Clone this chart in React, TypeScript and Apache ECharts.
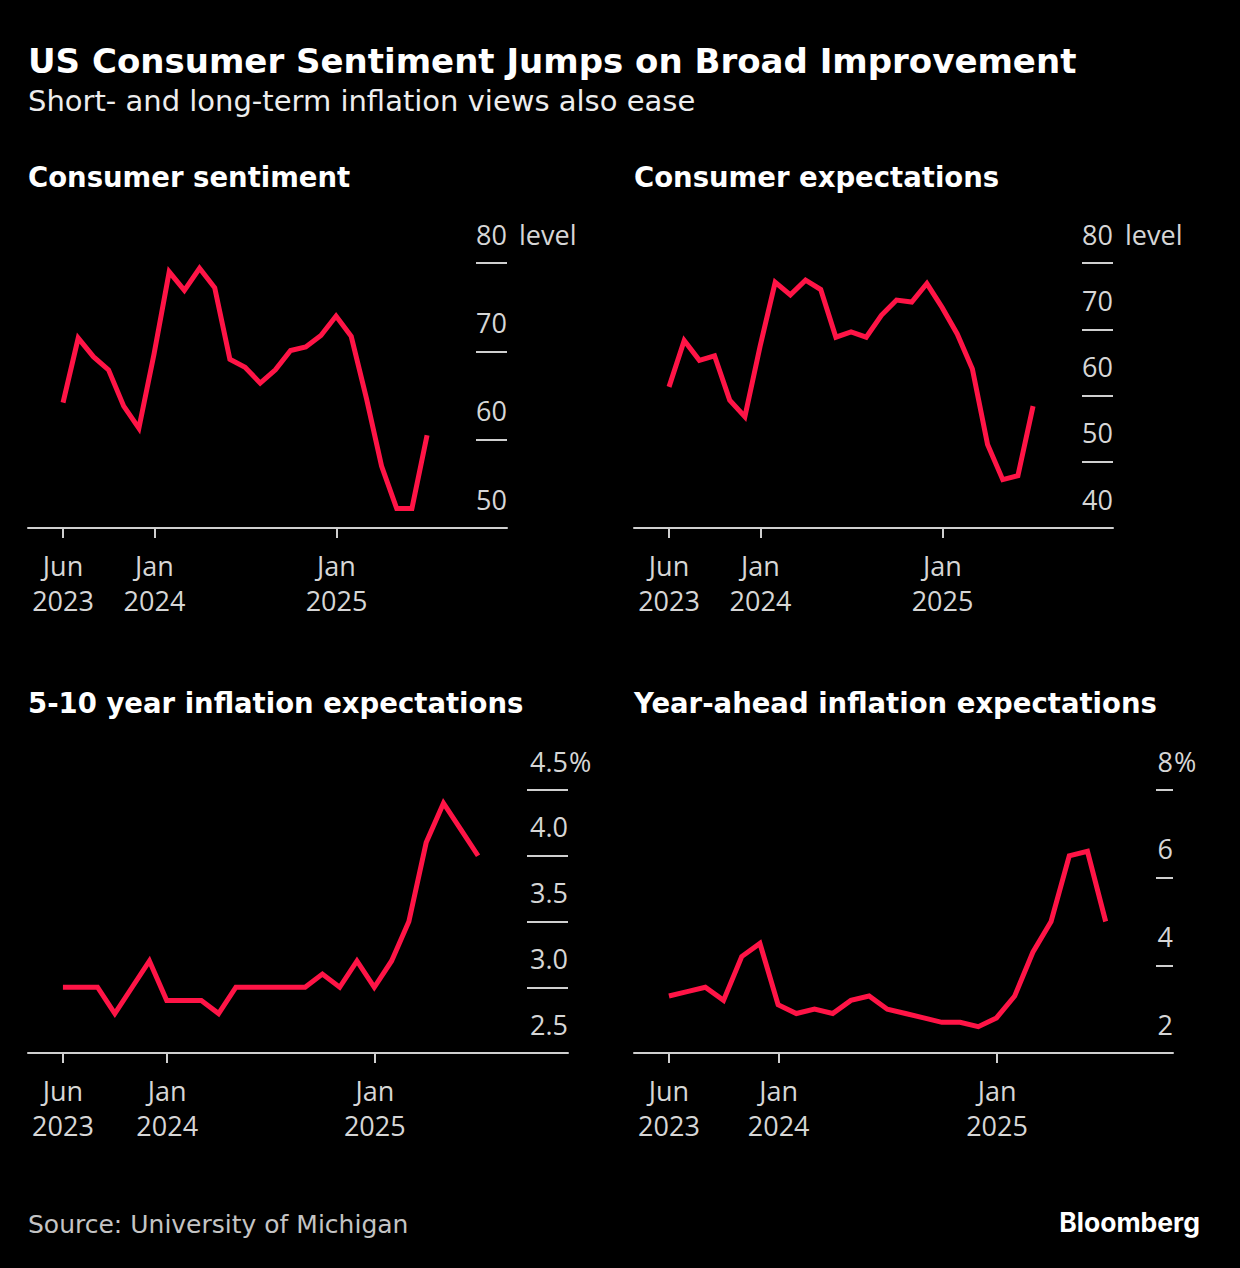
import React, { useEffect, useRef } from "react";
import * as echarts from "echarts";

// Monthly observations, Jun 2023 – Jun 2025
const months = [
  "2023-06", "2023-07", "2023-08", "2023-09", "2023-10", "2023-11", "2023-12",
  "2024-01", "2024-02", "2024-03", "2024-04", "2024-05", "2024-06", "2024-07",
  "2024-08", "2024-09", "2024-10", "2024-11", "2024-12",
  "2025-01", "2025-02", "2025-03", "2025-04", "2025-05", "2025-06",
];

const sentiment = [
  64.2, 71.5, 69.4, 67.9, 63.8, 61.3, 69.7, 79.0, 76.9, 79.4, 77.2, 69.1, 68.2,
  66.4, 67.9, 70.1, 70.5, 71.8, 74.0, 71.7, 64.7, 57.0, 52.2, 52.2, 60.5,
];

const expectations = [
  61.3, 68.3, 65.3, 66.0, 59.3, 56.8, 67.4, 77.1, 75.2, 77.4, 76.0, 68.8, 69.6,
  68.8, 72.1, 74.4, 74.1, 76.9, 73.3, 69.3, 64.0, 52.6, 47.3, 47.9, 58.4,
];

const longRunInflation = [
  3.0, 3.0, 3.0, 2.8, 3.0, 3.2, 2.9, 2.9, 2.9, 2.8, 3.0, 3.0, 3.0,
  3.0, 3.0, 3.1, 3.0, 3.2, 3.0, 3.2, 3.5, 4.1, 4.4, 4.2, 4.0,
];

const yearAheadInflation = [
  3.3, 3.4, 3.5, 3.2, 4.2, 4.5, 3.1, 2.9, 3.0, 2.9, 3.2, 3.3, 3.0,
  2.9, 2.8, 2.7, 2.7, 2.6, 2.8, 3.3, 4.3, 5.0, 6.5, 6.6, 5.0,
];

const xTickMonths = ["2023-06", "2024-01", "2025-01"];
const xTickLabels = ["Jun\n2023", "Jan\n2024", "Jan\n2025"];

const panelTitles = [
  "Consumer sentiment",
  "Consumer expectations",
  "5-10 year inflation expectations",
  "Year-ahead inflation expectations",
];
const unitLabels = ["level", "level", "%", "%"];

const RED = "#ff1446";
const AXIS = "#cfcfcf";
const LABEL = "#d6d6d6";
const FONT = "'Open Sans', 'Noto Sans', sans-serif";
const HEAD = "'DejaVu Sans', 'Open Sans', sans-serif";

// tick position on the month-index scale (month-end data points, month-start ticks)
const tickPos = (m: string) => {
  const i = months.indexOf(m);
  return i === 0 ? 0 : i - 0.97;
};
const xTickValues = xTickMonths.map(tickPos);

type Panel = {
  left: number; right: number; top: number; bottom: number;
  xMin: number; xMax: number;
  yMin: number; yMax: number; interval: number;
  tickLen: number; decimals: number; unitMargin: number;
  data: number[];
};

const panels: Panel[] = [
  { left: 28, right: 733, top: 263, bottom: 740, xMin: -2.31, xMax: 29.27, yMin: 50, yMax: 80, interval: 10, tickLen: 31, decimals: 0, unitMargin: 12, data: sentiment },
  { left: 634, right: 127, top: 263, bottom: 740, xMin: -2.31, xMax: 29.27, yMin: 40, yMax: 80, interval: 10, tickLen: 31, decimals: 0, unitMargin: 12, data: expectations },
  { left: 28, right: 672, top: 790, bottom: 215, xMin: -2.02, xMax: 29.2, yMin: 2.5, yMax: 4.5, interval: 0.5, tickLen: 41, decimals: 1, unitMargin: 1, data: longRunInflation },
  { left: 634, right: 67, top: 790, bottom: 215, xMin: -1.92, xMax: 27.7, yMin: 2, yMax: 8, interval: 2, tickLen: 17, decimals: 0, unitMargin: 1, data: yearAheadInflation },
];

function buildOption() {
  const grid: any[] = [];
  const xAxis: any[] = [];
  const yAxis: any[] = [];
  const series: any[] = [];

  panels.forEach((p, k) => {
    grid.push({ left: p.left, right: p.right, top: p.top, bottom: p.bottom, containLabel: false });
    xAxis.push({
      type: "value",
      gridIndex: k,
      position: "bottom",
      min: p.xMin,
      max: p.xMax,
      splitLine: { show: false },
      axisLine: { show: true, onZero: false, lineStyle: { color: AXIS, width: 2 } },
      axisTick: { show: true, customValues: xTickValues, length: 10, lineStyle: { color: AXIS, width: 2 } },
      axisLabel: {
        show: true,
        customValues: xTickValues,
        formatter: (v: number) => {
          const idx = xTickValues.findIndex((t) => Math.abs(t - v) < 1e-6);
          return idx >= 0 ? xTickLabels[idx] : "";
        },
        color: LABEL,
        fontSize: 27,
        lineHeight: 35,
        fontFamily: FONT,
        margin: 20,
      },
    });
    yAxis.push({
      type: "value",
      gridIndex: k,
      position: "right",
      min: p.yMin,
      max: p.yMax,
      interval: p.interval,
      splitLine: { show: false },
      axisLine: { show: false, onZero: false },
      axisTick: { show: true, inside: true, length: p.tickLen, lineStyle: { color: AXIS, width: 2 } },
      axisLabel: {
        color: LABEL,
        fontSize: 27,
        fontFamily: FONT,
        verticalAlign: "bottom",
        lineHeight: 30,
        padding: [0, 0, 14, 0],
        showMinLabel: true,
        showMaxLabel: true,
        inside: true,
        margin: 0,
        formatter: (v: number) => v.toFixed(p.decimals),
      },
      name: unitLabels[k],
      nameLocation: "end",
      nameGap: 29,
      nameMoveOverlap: false,
      nameTextStyle: {
        color: LABEL,
        fontSize: 27,
        fontFamily: FONT,
        align: "left",
        verticalAlign: "middle",
        padding: [0, 0, 0, p.unitMargin],
      },
    });
    series.push({
      type: "line",
      xAxisIndex: k,
      yAxisIndex: k,
      data: p.data.map((v, i) => [i, v]),
      showSymbol: false,
      symbol: "none",
      lineStyle: { color: RED, width: 5, join: "miter" },
      z: 5,
    });
  });

  const panelTitleStyle = { color: "#fff", fontSize: 27.5, fontWeight: "bold", fontFamily: HEAD };
  const titles: any[] = [
    { text: "US Consumer Sentiment Jumps on Broad Improvement", left: 28, top: 44, padding: 0,
      textStyle: { color: "#ffffff", fontSize: 34, fontWeight: "bold", fontFamily: HEAD } },
    { text: "Short- and long-term inflation views also ease", left: 28, top: 86, padding: 0,
      textStyle: { color: "#ededed", fontSize: 29, fontWeight: "normal", fontFamily: HEAD } },
    { text: panelTitles[0], left: 28, top: 163, padding: 0, textStyle: panelTitleStyle },
    { text: panelTitles[1], left: 634, top: 163, padding: 0, textStyle: panelTitleStyle },
    { text: panelTitles[2], left: 28, top: 689, padding: 0, textStyle: panelTitleStyle },
    { text: panelTitles[3], left: 634, top: 689, padding: 0, textStyle: panelTitleStyle },
    { text: "Source: University of Michigan", left: 28, top: 1212, padding: 0,
      textStyle: { color: "#c4c4c4", fontSize: 25, fontWeight: "normal", fontFamily: HEAD } },
    { text: "Bloomberg", right: 40, top: 1208, padding: 0,
      textStyle: { color: "#ffffff", fontSize: 26.5, fontWeight: "bold", fontFamily: "Inter, 'Open Sans', sans-serif" } },
  ];

  return {
    animation: false,
    backgroundColor: "#000000",
    title: titles,
    grid,
    xAxis,
    yAxis,
    series,
  };
}

export default function App() {
  const ref = useRef<HTMLDivElement>(null);
  useEffect(() => {
    document.body.style.margin = "0";
    document.body.style.background = "#000";
    const chart = echarts.init(ref.current!, null, { renderer: "svg" });
    chart.setOption(buildOption() as any);
    return () => chart.dispose();
  }, []);
  return <div ref={ref} style={{ width: 1240, height: 1268, background: "#000" }} />;
}
